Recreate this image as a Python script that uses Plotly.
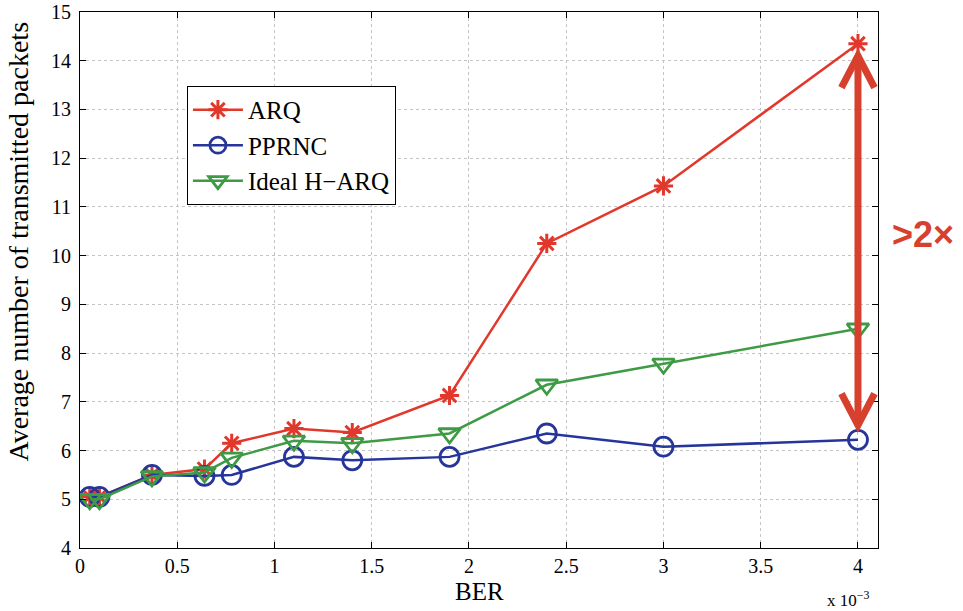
import plotly.graph_objects as go

ber = [0.05, 0.1, 0.37, 0.64, 0.78, 1.1, 1.4, 1.9, 2.4, 3.0, 4.0]  # x 10^-3
arq = [5.05, 5.05, 5.5, 5.62, 6.15, 6.45, 6.37, 7.13, 10.25, 11.43, 14.35]
pprnc = [5.05, 5.05, 5.5, 5.48, 5.5, 5.87, 5.8, 5.87, 6.35, 6.08, 6.22]
hvarq = [5.0, 5.0, 5.47, 5.55, 5.85, 6.2, 6.15, 6.35, 7.35, 7.78, 8.5]

x_ticks = [0, 0.5, 1, 1.5, 2, 2.5, 3, 3.5, 4]
x_ticklabels = ["0", "0.5", "1", "1.5", "2", "2.5", "3", "3.5", "4"]
y_ticks = list(range(4, 16))

RED = "#e2382c"
BLUE = "#26359a"
GREEN = "#3f9a45"
ARROW = "#d8402e"
FONT = "Liberation Serif"

fig = go.Figure()
fig.add_trace(go.Scatter(x=ber, y=arq, name="ARQ", mode="lines+markers",
                         line=dict(color=RED, width=2.5),
                         marker=dict(symbol="asterisk-open", size=16, line=dict(color=RED, width=3))))
fig.add_trace(go.Scatter(x=ber, y=pprnc, name="PPRNC", mode="lines+markers",
                         line=dict(color=BLUE, width=2.5),
                         marker=dict(symbol="circle-open", size=19, line=dict(color=BLUE, width=2.8))))
fig.add_trace(go.Scatter(x=ber, y=hvarq, name="Ideal H\u2212ARQ", mode="lines+markers",
                         line=dict(color=GREEN, width=2.5),
                         marker=dict(symbol="triangle-down-open", size=19, line=dict(color=GREEN, width=2.8))))

# double-headed annotation arrow between ARQ and PPRNC at BER=4e-3
xa = ber[-1]
top = arq[-1] - 0.25
bot = pprnc[-1] + 0.3
dx = 0.085
dy = 0.65
fig.add_shape(type="line", x0=xa, x1=xa, y0=top, y1=bot, xref="x", yref="y",
              line=dict(color=ARROW, width=7))
fig.add_shape(type="path", xref="x", yref="y",
              path=f"M {xa-dx},{top-dy} L {xa},{top} L {xa+dx},{top-dy}",
              line=dict(color=ARROW, width=7))
fig.add_shape(type="path", xref="x", yref="y",
              path=f"M {xa-dx},{bot+dy} L {xa},{bot} L {xa+dx},{bot+dy}",
              line=dict(color=ARROW, width=7))

fig.add_annotation(text="<b>>2\u00d7</b>", xref="paper", yref="paper", x=1.056, y=0.584,
                   showarrow=False, font=dict(family="Liberation Sans", size=36, color=ARROW),
                   xanchor="center", yanchor="middle")
fig.add_annotation(text="x 10<sup>\u22123</sup>", xref="paper", yref="paper", x=0.963, y=-0.095,
                   showarrow=False, font=dict(family=FONT, size=17, color="black"),
                   xanchor="center", yanchor="middle")
fig.add_annotation(text="BER", xref="paper", yref="paper", x=0.5, y=-0.081,
                   showarrow=False, font=dict(family=FONT, size=25, color="black"),
                   xanchor="center", yanchor="middle")
fig.add_annotation(text="Average number of transmitted packets", xref="paper", yref="paper",
                   x=-0.077, y=0.571, textangle=-90, showarrow=False,
                   font=dict(family=FONT, size=28, color="black"),
                   xanchor="center", yanchor="middle")

axis_common = dict(showline=True, linecolor="black", linewidth=1.2, mirror="ticks",
                   ticks="inside", ticklen=6, tickcolor="black", automargin=False,
                   showgrid=True, gridcolor="#c4c4c4", griddash="dot", gridwidth=1,
                   zeroline=False, tickfont=dict(family=FONT, size=20, color="black"))

fig.update_xaxes(range=[0, 4.103], tickvals=x_ticks, ticktext=x_ticklabels, **axis_common)
fig.update_yaxes(range=[4, 15], tickvals=y_ticks, ticklabelstandoff=4, **axis_common)

fig.update_layout(
    width=963, height=611,
    margin=dict(l=80, r=85, t=12, b=63),
    plot_bgcolor="white", paper_bgcolor="white",
    legend=dict(x=0.134, y=0.862, xanchor="left", yanchor="top",
                bgcolor="white", bordercolor="black", borderwidth=1,
                font=dict(family=FONT, size=25, color="black"),
                itemwidth=50, tracegroupgap=0),
    showlegend=True,
)

fig.write_html("out.html", config={"displayModeBar": False},
               post_script="document.body.style.margin='0';")
